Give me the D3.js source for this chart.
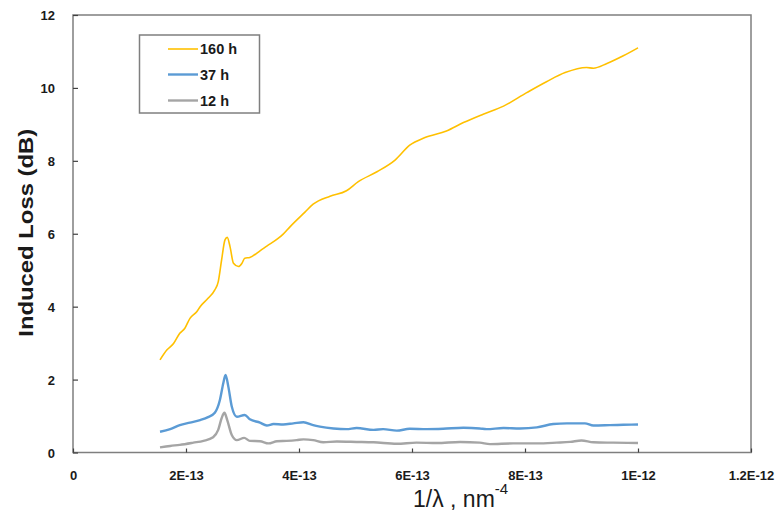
<!DOCTYPE html>
<html>
<head>
<meta charset="utf-8">
<script src="https://cdn.jsdelivr.net/npm/d3@7/dist/d3.min.js"></script>
<style>
  html, body { margin: 0; padding: 0; background: #fff; }
  svg { display: block; }
  text { font-family: "Liberation Sans", Arial, sans-serif; }
</style>
</head>
<body>
<svg id="chart" width="779" height="514"></svg>
<script>
// Induced loss versus 1/λ⁴ after three irradiation times
const seriesNames = ["160 h", "37 h", "12 h"];
const seriesColors = ["#FFC000", "#5B9BD5", "#A5A5A5"];

const x160 = [1.54e-13, 1.66e-13, 1.78e-13, 1.89e-13, 1.98e-13, 2.07e-13, 2.19e-13, 2.25e-13, 2.39e-13, 2.51e-13,
  2.57e-13, 2.63e-13, 2.69e-13, 2.73e-13, 2.78e-13, 2.84e-13, 2.93e-13, 2.99e-13, 3.04e-13, 3.13e-13,
  3.31e-13, 3.43e-13, 3.63e-13, 3.72e-13, 3.84e-13, 4.11e-13, 4.25e-13, 4.55e-13, 4.84e-13, 5.05e-13, 5.38e-13,
  5.70e-13, 5.96e-13, 6.23e-13, 6.61e-13, 6.91e-13, 7.26e-13, 7.62e-13, 8.03e-13, 8.38e-13, 8.71e-13,
  9.09e-13, 9.21e-13, 9.45e-13, 9.74e-13, 1.0e-12];
const y160 = [2.54, 2.81, 2.99, 3.27, 3.41, 3.68, 3.86, 4.00, 4.23, 4.46,
  4.68, 5.28, 5.83, 5.90, 5.64, 5.19, 5.10, 5.19, 5.33, 5.35,
  5.53, 5.66, 5.87, 5.99, 6.19, 6.60, 6.81, 7.03, 7.18, 7.43, 7.70,
  8.02, 8.43, 8.64, 8.82, 9.05, 9.28, 9.50, 9.87, 10.17, 10.42,
  10.56, 10.54, 10.67, 10.88, 11.10];

const x37 = [1.54e-13, 1.72e-13, 1.89e-13, 2.07e-13, 2.25e-13, 2.39e-13, 2.51e-13, 2.60e-13, 2.66e-13, 2.70e-13,
  2.75e-13, 2.81e-13, 2.90e-13, 3.04e-13, 3.13e-13, 3.31e-13, 3.43e-13, 3.55e-13, 3.72e-13, 3.90e-13,
  4.08e-13, 4.25e-13, 4.37e-13, 4.61e-13, 4.84e-13, 5.02e-13, 5.32e-13, 5.49e-13, 5.73e-13, 5.96e-13,
  6.26e-13, 6.55e-13, 6.91e-13, 7.20e-13, 7.32e-13, 7.62e-13, 7.91e-13, 8.21e-13, 8.50e-13, 8.74e-13,
  9.06e-13, 9.21e-13, 9.50e-13, 9.74e-13, 1.0e-12];
const y37 = [0.57, 0.64, 0.75, 0.82, 0.89, 0.97, 1.09, 1.44, 1.90, 2.13,
  1.80, 1.26, 0.98, 1.03, 0.91, 0.82, 0.74, 0.78, 0.77, 0.80,
  0.83, 0.75, 0.71, 0.66, 0.64, 0.67, 0.62, 0.64, 0.60, 0.65,
  0.64, 0.65, 0.68, 0.66, 0.64, 0.67, 0.66, 0.69, 0.78, 0.80,
  0.80, 0.74, 0.75, 0.76, 0.77];

const x12 = [1.54e-13, 1.72e-13, 1.89e-13, 2.13e-13, 2.31e-13, 2.48e-13, 2.57e-13, 2.63e-13, 2.68e-13, 2.73e-13,
  2.81e-13, 2.90e-13, 3.03e-13, 3.13e-13, 3.31e-13, 3.46e-13, 3.61e-13, 3.78e-13, 3.96e-13, 4.08e-13,
  4.25e-13, 4.43e-13, 4.67e-13, 5.02e-13, 5.32e-13, 5.73e-13, 6.08e-13, 6.44e-13, 6.85e-13, 7.20e-13,
  7.38e-13, 7.79e-13, 8.21e-13, 8.56e-13, 8.80e-13, 9.00e-13, 9.21e-13, 9.56e-13, 1.0e-12];
const y12 = [0.14, 0.18, 0.21, 0.27, 0.32, 0.42, 0.62, 0.94, 1.09, 0.89,
  0.48, 0.34, 0.40, 0.32, 0.31, 0.25, 0.31, 0.32, 0.34, 0.36,
  0.34, 0.28, 0.30, 0.29, 0.28, 0.24, 0.27, 0.26, 0.29, 0.27,
  0.23, 0.25, 0.25, 0.27, 0.29, 0.33, 0.28, 0.27, 0.26];

const xTicks = [0, 2e-13, 4e-13, 6e-13, 8e-13, 1e-12, 1.2e-12];
const xTickLabels = ["0", "2E-13", "4E-13", "6E-13", "8E-13", "1E-12", "1.2E-12"];
const yTicks = [0, 2, 4, 6, 8, 10, 12];

const svg = d3.select("#chart");
const plot = { left: 73, right: 751, top: 15, bottom: 452.5 };

const x = d3.scaleLinear().domain([0, 1.2e-12]).range([plot.left, plot.right]);
const y = d3.scaleLinear().domain([0, 12]).range([plot.bottom, plot.top]);

svg.append("rect").attr("width", 779).attr("height", 514).attr("fill", "#fff");

// plot frame
svg.append("rect")
  .attr("x", plot.left).attr("y", plot.top)
  .attr("width", plot.right - plot.left).attr("height", plot.bottom - plot.top)
  .attr("fill", "none").attr("stroke", "#7f7f7f").attr("stroke-width", 1.5);

// x axis: inward ticks, bold labels below
const xAxis = d3.axisTop(x).tickValues(xTicks).tickSize(4)
  .tickFormat((d, i) => xTickLabels[i]);
const gx = svg.append("g").attr("transform", `translate(0,${plot.bottom})`).call(xAxis);
gx.select(".domain").remove();
gx.selectAll(".tick line").attr("stroke", "#404040").attr("stroke-width", 1.2);
gx.selectAll(".tick text")
  .attr("y", 27).attr("dy", 0)
  .attr("fill", "#1a1a1a").attr("font-size", 13).attr("font-weight", "bold")
  .attr("font-family", "Liberation Sans, Arial, sans-serif");

// y axis: inward ticks, bold labels at left
const yAxis = d3.axisRight(y).tickValues(yTicks).tickSize(5).tickFormat(d3.format("d"));
const gy = svg.append("g").attr("transform", `translate(${plot.left},0)`).call(yAxis);
gy.select(".domain").remove();
gy.selectAll(".tick line").attr("stroke", "#404040").attr("stroke-width", 1.2);
gy.selectAll(".tick text")
  .attr("x", -18).attr("text-anchor", "end").attr("dy", "0.35em")
  .attr("fill", "#1a1a1a").attr("font-size", 13).attr("font-weight", "bold")
  .attr("font-family", "Liberation Sans, Arial, sans-serif");

// lines
const series = [
  { name: seriesNames[0], xs: x160, ys: y160, color: seriesColors[0], width: 1.6 },
  { name: seriesNames[1], xs: x37, ys: y37, color: seriesColors[1], width: 2.4 },
  { name: seriesNames[2], xs: x12, ys: y12, color: seriesColors[2], width: 2.4 }
];
const line = d3.line().x(d => x(d[0])).y(d => y(d[1])).curve(d3.curveMonotoneX);
series.slice().reverse().forEach(s => {
  svg.append("path")
    .datum(s.xs.map((v, i) => [v, s.ys[i]]))
    .attr("fill", "none").attr("stroke", s.color)
    .attr("stroke-width", s.width).attr("stroke-linejoin", "round")
    .attr("d", line);
});

// axis titles
svg.append("text")
  .attr("transform", `translate(33,${(plot.top + plot.bottom) / 2 - 1}) rotate(-90)`)
  .attr("text-anchor", "middle")
  .attr("font-size", 21).attr("font-weight", "bold").attr("fill", "#1a1a1a")
  .attr("textLength", 208).attr("lengthAdjust", "spacingAndGlyphs")
  .text("Induced Loss (dB)");

const xt = svg.append("text")
  .attr("x", 413).attr("y", 507)
  .attr("font-size", 23).attr("fill", "#1a1a1a");
xt.append("tspan").text("1/λ , nm");
xt.append("tspan").attr("font-size", 15).attr("dy", -13).text("-4");

// legend
const lg = svg.append("g");
lg.append("rect")
  .attr("x", 139.5).attr("y", 35).attr("width", 120).attr("height", 78)
  .attr("fill", "#fff").attr("stroke", "#7f7f7f").attr("stroke-width", 1.5);
const rowY = [49, 74.5, 100.5];
series.forEach((s, i) => {
  lg.append("line")
    .attr("x1", 168).attr("x2", 198).attr("y1", rowY[i]).attr("y2", rowY[i])
    .attr("stroke", s.color).attr("stroke-width", s.width);
  lg.append("text")
    .attr("x", 200).attr("y", rowY[i]).attr("dy", "0.36em")
    .attr("font-size", 14.5).attr("font-weight", "bold").attr("fill", "#1a1a1a")
    .text(s.name);
});
</script>
</body>
</html>
